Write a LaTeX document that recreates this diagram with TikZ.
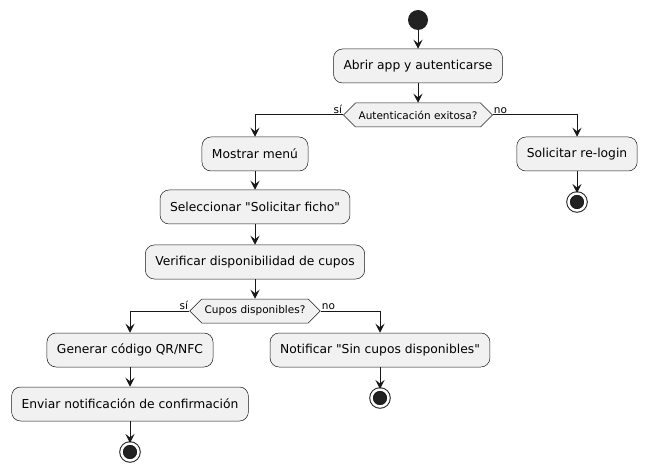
\documentclass[tikz,border=0pt]{standalone}
\usepackage{fontspec}
\setmainfont{DejaVu Sans}
\usepackage{xcolor}
\usetikzlibrary{positioning, arrows.meta, shapes.symbols}

\definecolor{lineC}{HTML}{181818}
\definecolor{boxC}{HTML}{F1F1F1}
\definecolor{dotC}{HTML}{222222}

\tikzset{
    act/.style={draw=lineC, line width=0.5pt, fill=boxC, rounded corners=9pt,
        minimum height=34pt, inner xsep=10pt, font=\fontsize{12.3}{14}\selectfont},
    test/.style={signal, signal to=east and west, draw=lineC, line width=0.5pt,
        fill=boxC, minimum height=24pt, inner xsep=3pt, font=\fontsize{10.5}{12}\selectfont},
    startnode/.style={circle, fill=dotC, minimum size=20pt, inner sep=0pt},
    stopnode/.style={circle, draw=lineC, fill=dotC, line width=1pt, double=white,
        double distance=2.5pt, minimum size=17pt, inner sep=0pt},
    flow/.style={draw=lineC, line width=1pt, -{Stealth[length=9pt, width=9pt, inset=3.5pt]}},
    guard/.style={inner sep=1pt, font=\fontsize{10.5}{11}\selectfont}
}

\begin{document}
\begin{tikzpicture}[x=1pt, y=-1pt]
    \useasboundingbox (0,0) rectangle (648,473);

    \coordinate (pStart) at (418,20);
    \coordinate (pOpen) at (418,66);
    \coordinate (pAuth) at (418,115);
    \coordinate (pMenu) at (255,154);
    \coordinate (pRelog) at (577,154);
    \coordinate (pStopA) at (577,202);
    \coordinate (pPick) at (255,207);
    \coordinate (pCheck) at (255,262);
    \coordinate (pSeats) at (255,311);
    \coordinate (pCode) at (130,350);
    \coordinate (pNone) at (380,350);
    \coordinate (pStopB) at (380,398);
    \coordinate (pSend) at (130,404);
    \coordinate (pStopC) at (130,452);

    \node[startnode] (start) at (pStart) {};
    \node[act] (open) at (pOpen) {Abrir app y autenticarse};
    \node[test] (auth) at (pAuth) {Autenticación exitosa?};
    \node[act] (menu) at (pMenu) {Mostrar menú};
    \node[act] (relog) at (pRelog) {Solicitar re-login};
    \node[stopnode] (stopA) at (pStopA) {};
    \node[act] (pick) at (pPick) {Seleccionar \textquotedbl Solicitar ficho\textquotedbl};
    \node[act] (check) at (pCheck) {Verificar disponibilidad de cupos};
    \node[test] (seats) at (pSeats) {Cupos disponibles?};
    \node[act] (code) at (pCode) {Generar código QR/NFC};
    \node[act] (none) at (pNone) {Notificar \textquotedbl Sin cupos disponibles\textquotedbl};
    \node[stopnode] (stopB) at (pStopB) {};
    \node[act] (send) at (pSend) {Enviar notificación de confirmación};
    \node[stopnode] (stopC) at (pStopC) {};

    % straight flow
    \foreach \from/\to in {start/open, open/auth, menu/pick, pick/check, check/seats,
        relog/stopA, code/send, send/stopC, none/stopB}
        \draw[flow] (\from.south) -- (\to.north);

    % branches
    \draw[flow] (auth.west) -| (menu.north);
    \draw[flow] (auth.east) -| (relog.north);
    \draw[flow] (seats.west) -| (code.north);
    \draw[flow] (seats.east) -| (none.north);

    \node[guard, above left] at (auth.west) {sí};
    \node[guard, above right] at (auth.east) {no};
    \node[guard, above left] at (seats.west) {sí};
    \node[guard, above right] at (seats.east) {no};
\end{tikzpicture}
\end{document}
